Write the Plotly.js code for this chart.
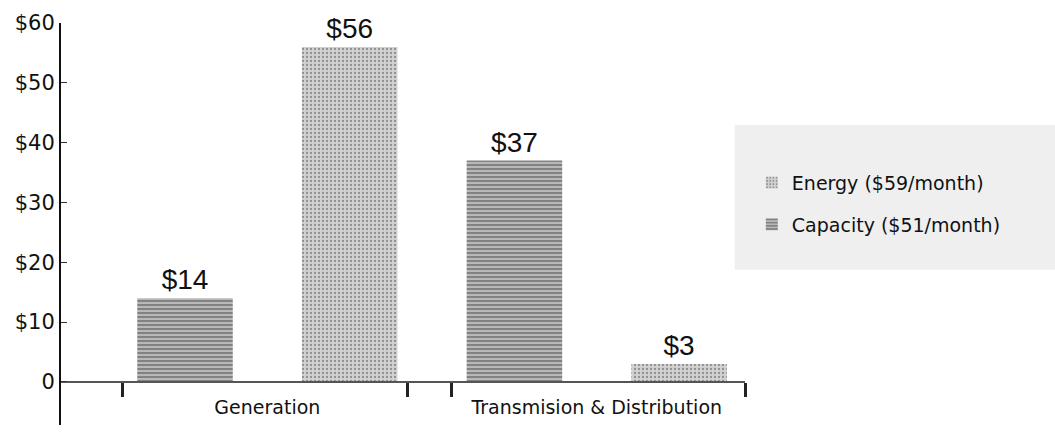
<!DOCTYPE html>
<html>
<head>
<meta charset="utf-8">
<script src="https://cdn.plot.ly/plotly-3.0.1.min.js"></script>
<style>html,body{margin:0;padding:0;background:#fff;}#chart{width:1055px;height:439px;}</style>
</head>
<body>
<div id="chart"></div>
<script>
// Data
var categories = ['Generation', 'Transmision & Distribution'];
var capacity = [14, 37];   // Capacity ($51/month)
var energy = [56, 3];      // Energy ($59/month)
var seriesNames = ['Energy ($59/month)', 'Capacity ($51/month)'];
var yTickVals = [0, 10, 20, 30, 40, 50, 60];
var yTickText = ['0', '$10', '$20', '$30', '$40', '$50', '$60'];

// bar slots: capacity then energy within each category
var capX = categories.map(function(c, i){ return 2 * i + 1; });
var enX = categories.map(function(c, i){ return 2 * i + 2; });
var catCenters = categories.map(function(c, i){ return 2 * i + 1.5; });
var dividers = [0.62, 2.35, 2.62, 4.4];

var geo = '"DejaVu Sans", Verdana, sans-serif';
var valFont = '"Liberation Sans", Arial, sans-serif';

var traces = [
  {
    type: 'bar', name: seriesNames[0], x: enX, y: energy, width: 0.58,
    legendgroup: 'e',
    marker: {color: '#c9c9c9', line: {width: 0},
      pattern: {shape: '.', fgcolor: '#8f8f8f', bgcolor: '#d2d2d2', size: 4, solidity: 0.25}},
    texttemplate: '$%{y}', textposition: 'outside',
    textfont: {family: valFont, size: 28, color: '#111'}, cliponaxis: false
  },
  {
    type: 'bar', name: seriesNames[1], x: capX, y: capacity, width: 0.58,
    legendgroup: 'c',
    marker: {color: '#a8a8a8', line: {width: 0},
      pattern: {shape: '-', fgcolor: '#6a6a6a', bgcolor: '#b8b8b8', size: 4, solidity: 0.35}},
    texttemplate: '$%{y}', textposition: 'outside',
    textfont: {family: valFont, size: 28, color: '#111'}, cliponaxis: false
  }
];

var layout = {
  width: 1055, height: 439,
  margin: {l: 61, r: 310, t: 23, b: 14},
  paper_bgcolor: '#fff', plot_bgcolor: '#fff',
  barmode: 'overlay',
  showlegend: true,
  legend: {
    x: 1.01, y: 0.65, xanchor: 'left', yanchor: 'top',
    bgcolor: 'rgba(0,0,0,0)', borderwidth: 0,
    font: {family: geo, size: 19, color: '#111'},
    traceorder: 'grouped', itemwidth: 30,
    tracegroupgap: 14
  },
  shapes: [
    {type: 'rect', xref: 'paper', yref: 'paper', x0: 0.985, x1: 1.455, y0: 0.386, y1: 0.746,
     fillcolor: '#efefef', line: {width: 0}, layer: 'below'}
  ],
  xaxis: {
    range: [0.247, 4.4], anchor: 'free', position: 7.2 / 67.2,
    showline: true, linecolor: '#555', linewidth: 2,
    showgrid: false, zeroline: false,
    tickvals: catCenters, ticktext: categories, ticks: '',
    ticklabelstandoff: 8,
    tickfont: {family: geo, size: 19, color: '#111'},
    minor: {tickvals: dividers, ticks: 'outside', ticklen: 14, tickwidth: 3, tickcolor: '#222', showgrid: false}
  },
  yaxis: {
    range: [-7.2, 60], showline: true, linecolor: '#111', linewidth: 2,
    showgrid: false, zeroline: false,
    tickvals: yTickVals, ticktext: yTickText,
    ticks: 'inside', ticklen: 6, tickwidth: 1, tickcolor: '#333',
    tickfont: {family: geo, size: 21, color: '#111'}
  }
};

Plotly.newPlot('chart', traces, layout, {displayModeBar: false, staticPlot: true});
</script>
</body>
</html>
